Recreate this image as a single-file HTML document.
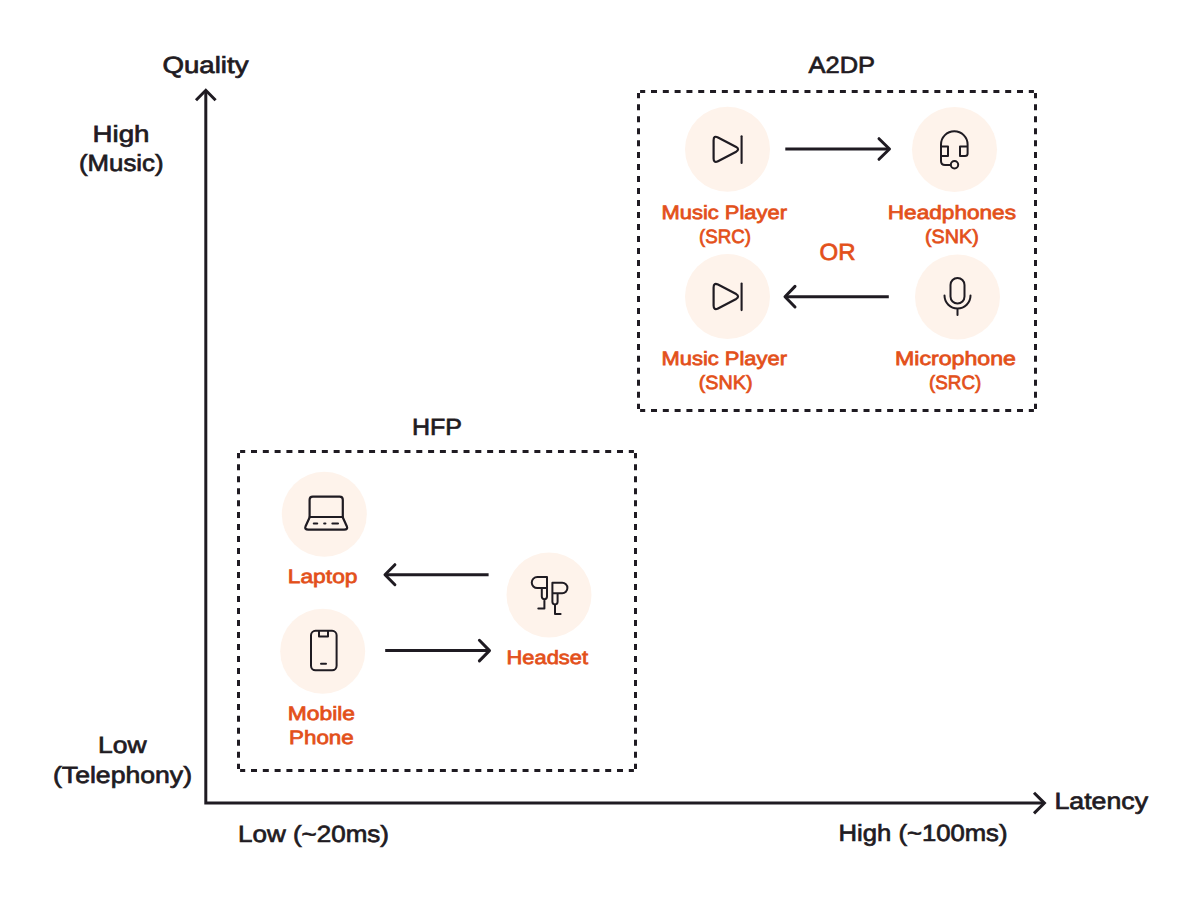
<!DOCTYPE html>
<html><head><meta charset="utf-8"><title>HFP vs A2DP</title>
<style>html,body{margin:0;padding:0;background:#ffffff;width:1200px;height:899px;overflow:hidden}
svg{display:block;font-family:"Liberation Sans",sans-serif}</style></head>
<body><svg width="1200" height="899" viewBox="0 0 1200 899">
<g stroke="#1f1b22" stroke-width="3" fill="none" stroke-linecap="butt">
<path d="M205.8 91 V803.1 H1043"/>
<path d="M196 100.3 L205.8 90.3 L215.6 100.3" stroke-linejoin="miter"/>
<path d="M1034 792.8 L1044.4 803.1 L1034 813.4"/>
</g>
<g stroke="#1f1b22" stroke-width="3" fill="none">
<path d="M640.10 91.5H645.20M651.01 91.5H657.01M662.81 91.5H668.81M674.62 91.5H680.62M686.42 91.5H692.42M698.23 91.5H704.23M710.04 91.5H716.04M721.84 91.5H727.84M733.65 91.5H739.65M745.45 91.5H751.45M757.26 91.5H763.26M769.07 91.5H775.07M780.87 91.5H786.87M792.68 91.5H798.68M804.48 91.5H810.48M816.29 91.5H822.29M828.10 91.5H834.10M839.90 91.5H845.90M851.71 91.5H857.71M863.52 91.5H869.52M875.32 91.5H881.32M887.13 91.5H893.13M898.93 91.5H904.93M910.74 91.5H916.74M922.55 91.5H928.55M934.35 91.5H940.35M946.16 91.5H952.16M957.96 91.5H963.96M969.77 91.5H975.77M981.58 91.5H987.58M993.38 91.5H999.38M1005.19 91.5H1011.19M1016.99 91.5H1022.99M1028.80 91.5H1033.90M640.10 410.5H645.20M651.01 410.5H657.01M662.81 410.5H668.81M674.62 410.5H680.62M686.42 410.5H692.42M698.23 410.5H704.23M710.04 410.5H716.04M721.84 410.5H727.84M733.65 410.5H739.65M745.45 410.5H751.45M757.26 410.5H763.26M769.07 410.5H775.07M780.87 410.5H786.87M792.68 410.5H798.68M804.48 410.5H810.48M816.29 410.5H822.29M828.10 410.5H834.10M839.90 410.5H845.90M851.71 410.5H857.71M863.52 410.5H869.52M875.32 410.5H881.32M887.13 410.5H893.13M898.93 410.5H904.93M910.74 410.5H916.74M922.55 410.5H928.55M934.35 410.5H940.35M946.16 410.5H952.16M957.96 410.5H963.96M969.77 410.5H975.77M981.58 410.5H987.58M993.38 410.5H999.38M1005.19 410.5H1011.19M1016.99 410.5H1022.99M1028.80 410.5H1033.90M638.5 93.10V98.20M638.5 104.18V110.18M638.5 116.17V122.17M638.5 128.15V134.15M638.5 140.14V146.14M638.5 152.12V158.12M638.5 164.11V170.11M638.5 176.09V182.09M638.5 188.08V194.08M638.5 200.06V206.06M638.5 212.05V218.05M638.5 224.03V230.03M638.5 236.02V242.02M638.5 248.00V254.00M638.5 259.98V265.98M638.5 271.97V277.97M638.5 283.95V289.95M638.5 295.94V301.94M638.5 307.92V313.92M638.5 319.91V325.91M638.5 331.89V337.89M638.5 343.88V349.88M638.5 355.86V361.86M638.5 367.85V373.85M638.5 379.83V385.83M638.5 391.82V397.82M638.5 403.80V408.90M1035.5 93.10V98.20M1035.5 104.18V110.18M1035.5 116.17V122.17M1035.5 128.15V134.15M1035.5 140.14V146.14M1035.5 152.12V158.12M1035.5 164.11V170.11M1035.5 176.09V182.09M1035.5 188.08V194.08M1035.5 200.06V206.06M1035.5 212.05V218.05M1035.5 224.03V230.03M1035.5 236.02V242.02M1035.5 248.00V254.00M1035.5 259.98V265.98M1035.5 271.97V277.97M1035.5 283.95V289.95M1035.5 295.94V301.94M1035.5 307.92V313.92M1035.5 319.91V325.91M1035.5 331.89V337.89M1035.5 343.88V349.88M1035.5 355.86V361.86M1035.5 367.85V373.85M1035.5 379.83V385.83M1035.5 391.82V397.82M1035.5 403.80V408.90"/>
<path d="M240.10 451.5H245.20M251.01 451.5H257.01M262.81 451.5H268.81M274.62 451.5H280.62M286.42 451.5H292.42M298.23 451.5H304.23M310.04 451.5H316.04M321.84 451.5H327.84M333.65 451.5H339.65M345.45 451.5H351.45M357.26 451.5H363.26M369.07 451.5H375.07M380.87 451.5H386.87M392.68 451.5H398.68M404.48 451.5H410.48M416.29 451.5H422.29M428.10 451.5H434.10M439.90 451.5H445.90M451.71 451.5H457.71M463.52 451.5H469.52M475.32 451.5H481.32M487.13 451.5H493.13M498.93 451.5H504.93M510.74 451.5H516.74M522.55 451.5H528.55M534.35 451.5H540.35M546.16 451.5H552.16M557.96 451.5H563.96M569.77 451.5H575.77M581.58 451.5H587.58M593.38 451.5H599.38M605.19 451.5H611.19M616.99 451.5H622.99M628.80 451.5H633.90M240.10 770.5H245.20M251.01 770.5H257.01M262.81 770.5H268.81M274.62 770.5H280.62M286.42 770.5H292.42M298.23 770.5H304.23M310.04 770.5H316.04M321.84 770.5H327.84M333.65 770.5H339.65M345.45 770.5H351.45M357.26 770.5H363.26M369.07 770.5H375.07M380.87 770.5H386.87M392.68 770.5H398.68M404.48 770.5H410.48M416.29 770.5H422.29M428.10 770.5H434.10M439.90 770.5H445.90M451.71 770.5H457.71M463.52 770.5H469.52M475.32 770.5H481.32M487.13 770.5H493.13M498.93 770.5H504.93M510.74 770.5H516.74M522.55 770.5H528.55M534.35 770.5H540.35M546.16 770.5H552.16M557.96 770.5H563.96M569.77 770.5H575.77M581.58 770.5H587.58M593.38 770.5H599.38M605.19 770.5H611.19M616.99 770.5H622.99M628.80 770.5H633.90M238.5 453.10V458.20M238.5 464.18V470.18M238.5 476.17V482.17M238.5 488.15V494.15M238.5 500.14V506.14M238.5 512.12V518.12M238.5 524.11V530.11M238.5 536.09V542.09M238.5 548.08V554.08M238.5 560.06V566.06M238.5 572.05V578.05M238.5 584.03V590.03M238.5 596.02V602.02M238.5 608.00V614.00M238.5 619.98V625.98M238.5 631.97V637.97M238.5 643.95V649.95M238.5 655.94V661.94M238.5 667.92V673.92M238.5 679.91V685.91M238.5 691.89V697.89M238.5 703.88V709.88M238.5 715.86V721.86M238.5 727.85V733.85M238.5 739.83V745.83M238.5 751.82V757.82M238.5 763.80V768.90M635.5 453.10V458.20M635.5 464.18V470.18M635.5 476.17V482.17M635.5 488.15V494.15M635.5 500.14V506.14M635.5 512.12V518.12M635.5 524.11V530.11M635.5 536.09V542.09M635.5 548.08V554.08M635.5 560.06V566.06M635.5 572.05V578.05M635.5 584.03V590.03M635.5 596.02V602.02M635.5 608.00V614.00M635.5 619.98V625.98M635.5 631.97V637.97M635.5 643.95V649.95M635.5 655.94V661.94M635.5 667.92V673.92M635.5 679.91V685.91M635.5 691.89V697.89M635.5 703.88V709.88M635.5 715.86V721.86M635.5 727.85V733.85M635.5 739.83V745.83M635.5 751.82V757.82M635.5 763.80V768.90"/>
</g>
<circle cx="727.5" cy="149.3" r="42.5" fill="#fef3eb"/>
<circle cx="954.5" cy="149.5" r="42.5" fill="#fef3eb"/>
<circle cx="727.5" cy="296.5" r="42.5" fill="#fef3eb"/>
<circle cx="957.5" cy="297" r="42.5" fill="#fef3eb"/>
<circle cx="324.3" cy="514.3" r="42.5" fill="#fef3eb"/>
<circle cx="322.7" cy="651.3" r="42.5" fill="#fef3eb"/>
<circle cx="549" cy="595" r="42.5" fill="#fef3eb"/>
<g stroke="#1f1b22" stroke-width="3" fill="none" stroke-linecap="butt">
<path d="M785.3 149 H888.5 M488.6 574.7 H386 M888.8 296.7 H786 M385.2 650.6 H488.5"/>
</g>
<g stroke="#1f1b22" stroke-width="3" fill="none" stroke-linecap="round" stroke-linejoin="round">
<path d="M879 138.7 L889.5 149 L879 159.3"/>
<path d="M795 286.4 L785 296.7 L795 307"/>
<path d="M394.9 564.7 L385 574.7 L394.9 584.7"/>
<path d="M479.4 640.3 L489.5 650.6 L479.4 660.9"/>
</g>
<g stroke="#1f1b22" stroke-width="2" fill="none" stroke-linecap="round" stroke-linejoin="round">
<g transform="translate(0.0,0.0)"><path stroke-width="2.2" d="M713.6 140.2 Q713.6 135.2 718 137.4 L736.2 146.9 Q739.9 149.3 736.2 151.7 L718 161.2 Q713.6 163.4 713.6 158.4 Z"/><path stroke-width="2.1" d="M741.6 136.3 V162.9"/></g>
<g transform="translate(0.0,147.2)"><path stroke-width="2.2" d="M713.6 140.2 Q713.6 135.2 718 137.4 L736.2 146.9 Q739.9 149.3 736.2 151.7 L718 161.2 Q713.6 163.4 713.6 158.4 Z"/><path stroke-width="2.1" d="M741.6 136.3 V162.9"/></g>
<path d="M941 156 V144.5 A13.3 13.3 0 0 1 967.6 144.5 V153.5 Q967.6 156 965 156 H960 V146.5 H967.6"/>
<path d="M941 146.5 H948 V156 H941 V161 Q941 165 945 165 H950.6"/>
<circle cx="954.5" cy="164.8" r="3.7"/>
<rect x="950.5" y="278" width="14" height="25.5" rx="7"/>
<path d="M944.5 295.5 A13 13 0 0 0 970.5 295.5 M957.5 308.5 V315"/>
</g>
<g stroke="#1f1b22" stroke-width="2.4" fill="none" stroke-linecap="round" stroke-linejoin="round">
<path stroke-width="2.2" d="M309.6 517 V499.8 Q309.6 496.6 312.8 496.6 H339.6 Q342.8 496.6 342.8 499.8 V517 Z"/>
<path stroke-width="2.2" d="M309.8 517 L305.6 526.2 Q304.2 529.6 308.2 529.6 H344.2 Q348.2 529.6 346.8 526.2 L342.6 517"/>
<path d="M313.8 523.5 H317.2 M324.2 523.5 H325.4 M332.4 523.5 H338" stroke-width="2.1"/>
</g>
<g stroke="#1f1b22" stroke-width="2" fill="none" stroke-linecap="round" stroke-linejoin="round">
<rect x="311" y="630.8" width="25.6" height="39.5" rx="4.5"/>
<path d="M319 631 V636.5 H328 V631"/>
<path d="M321 663.8 H326"/>
<path d="M547 577 H537.3 A5.55 5.55 0 0 0 537.3 588.1 H547 M547 577 V596.6 A2.6 2.6 0 0 1 541.8 596.6 V588.1 M544.4 599.2 V608.4 H538.3"/>
<path d="M552.4 582.8 H562.2 A5.2 5.2 0 0 1 562.2 593.2 H552.4 M552.4 582.8 V601.8 A2.6 2.6 0 0 0 557.6 601.8 V593.2 M555 604.4 V614 H560.6"/>
</g>
<text text-rendering="geometricPrecision" x="162.50" y="72.50" textLength="86.00" lengthAdjust="spacingAndGlyphs" font-size="23.4" fill="#1f1b22" stroke="#1f1b22" stroke-width="0.7">Quality</text>
<text text-rendering="geometricPrecision" x="92.50" y="142.00" textLength="57.00" lengthAdjust="spacingAndGlyphs" font-size="23.4" fill="#1f1b22" stroke="#1f1b22" stroke-width="0.7">High</text>
<text text-rendering="geometricPrecision" x="79.00" y="171.00" textLength="84.50" lengthAdjust="spacingAndGlyphs" font-size="23.4" fill="#1f1b22" stroke="#1f1b22" stroke-width="0.7">(Music)</text>
<text text-rendering="geometricPrecision" x="808.50" y="72.90" textLength="66.50" lengthAdjust="spacingAndGlyphs" font-size="23.4" fill="#1f1b22" stroke="#1f1b22" stroke-width="0.7">A2DP</text>
<text text-rendering="geometricPrecision" x="412.00" y="434.70" textLength="50.00" lengthAdjust="spacingAndGlyphs" font-size="23.4" fill="#1f1b22" stroke="#1f1b22" stroke-width="0.7">HFP</text>
<text text-rendering="geometricPrecision" x="98.00" y="753.40" textLength="48.50" lengthAdjust="spacingAndGlyphs" font-size="23.4" fill="#1f1b22" stroke="#1f1b22" stroke-width="0.7">Low</text>
<text text-rendering="geometricPrecision" x="53.00" y="782.50" textLength="139.00" lengthAdjust="spacingAndGlyphs" font-size="23.4" fill="#1f1b22" stroke="#1f1b22" stroke-width="0.7">(Telephony)</text>
<text text-rendering="geometricPrecision" x="238.00" y="841.90" textLength="151.00" lengthAdjust="spacingAndGlyphs" font-size="23.4" fill="#1f1b22" stroke="#1f1b22" stroke-width="0.7">Low (~20ms)</text>
<text text-rendering="geometricPrecision" x="838.50" y="841.10" textLength="169.00" lengthAdjust="spacingAndGlyphs" font-size="23.4" fill="#1f1b22" stroke="#1f1b22" stroke-width="0.7">High (~100ms)</text>
<text text-rendering="geometricPrecision" x="1054.50" y="809.40" textLength="93.50" lengthAdjust="spacingAndGlyphs" font-size="23.4" fill="#1f1b22" stroke="#1f1b22" stroke-width="0.7">Latency</text>
<text text-rendering="geometricPrecision" x="819.50" y="260.00" textLength="36.00" lengthAdjust="spacingAndGlyphs" font-size="23.4" fill="#e3501a" stroke="#e3501a" stroke-width="0.7">OR</text>
<text text-rendering="geometricPrecision" x="661.50" y="218.75" textLength="125.50" lengthAdjust="spacingAndGlyphs" font-size="19.3" fill="#e3501a" stroke="#e3501a" stroke-width="0.75">Music Player</text>
<text text-rendering="geometricPrecision" x="699.00" y="243.00" textLength="52.00" lengthAdjust="spacingAndGlyphs" font-size="19.3" fill="#e3501a" stroke="#e3501a" stroke-width="0.75">(SRC)</text>
<text text-rendering="geometricPrecision" x="887.75" y="218.75" textLength="128.25" lengthAdjust="spacingAndGlyphs" font-size="19.3" fill="#e3501a" stroke="#e3501a" stroke-width="0.75">Headphones</text>
<text text-rendering="geometricPrecision" x="925.00" y="243.00" textLength="53.75" lengthAdjust="spacingAndGlyphs" font-size="19.3" fill="#e3501a" stroke="#e3501a" stroke-width="0.75">(SNK)</text>
<text text-rendering="geometricPrecision" x="661.50" y="365.00" textLength="125.50" lengthAdjust="spacingAndGlyphs" font-size="19.3" fill="#e3501a" stroke="#e3501a" stroke-width="0.75">Music Player</text>
<text text-rendering="geometricPrecision" x="698.75" y="389.40" textLength="53.75" lengthAdjust="spacingAndGlyphs" font-size="19.3" fill="#e3501a" stroke="#e3501a" stroke-width="0.75">(SNK)</text>
<text text-rendering="geometricPrecision" x="895.00" y="365.00" textLength="121.00" lengthAdjust="spacingAndGlyphs" font-size="19.3" fill="#e3501a" stroke="#e3501a" stroke-width="0.75">Microphone</text>
<text text-rendering="geometricPrecision" x="929.00" y="389.40" textLength="52.25" lengthAdjust="spacingAndGlyphs" font-size="19.3" fill="#e3501a" stroke="#e3501a" stroke-width="0.75">(SRC)</text>
<text text-rendering="geometricPrecision" x="287.75" y="582.50" textLength="69.75" lengthAdjust="spacingAndGlyphs" font-size="19.3" fill="#e3501a" stroke="#e3501a" stroke-width="0.75">Laptop</text>
<text text-rendering="geometricPrecision" x="506.50" y="664.30" textLength="81.50" lengthAdjust="spacingAndGlyphs" font-size="19.3" fill="#e3501a" stroke="#e3501a" stroke-width="0.75">Headset</text>
<text text-rendering="geometricPrecision" x="287.75" y="719.60" textLength="67.25" lengthAdjust="spacingAndGlyphs" font-size="19.3" fill="#e3501a" stroke="#e3501a" stroke-width="0.75">Mobile</text>
<text text-rendering="geometricPrecision" x="289.00" y="743.75" textLength="64.75" lengthAdjust="spacingAndGlyphs" font-size="19.3" fill="#e3501a" stroke="#e3501a" stroke-width="0.75">Phone</text>
</svg></body></html>
